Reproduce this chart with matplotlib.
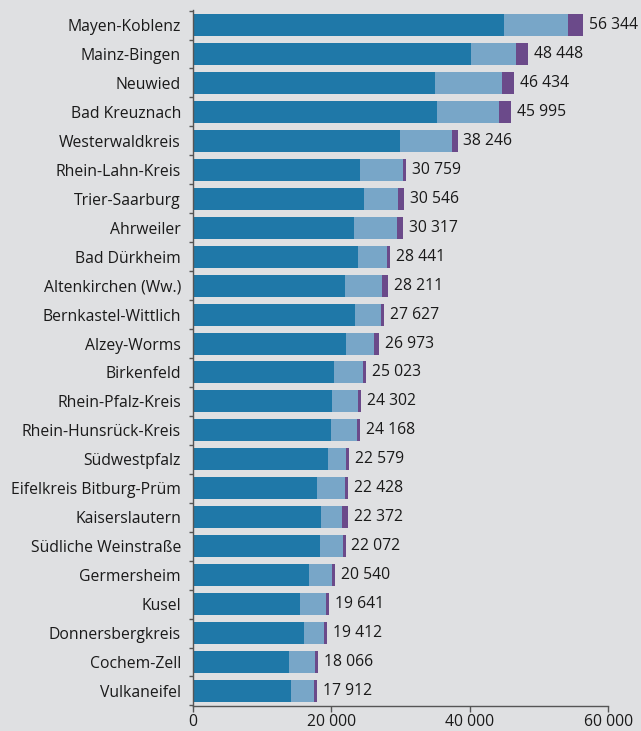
import numpy as np
import matplotlib
matplotlib.use("Agg")
import matplotlib.pyplot as plt
from matplotlib.ticker import FuncFormatter

# ---------------------------------------------------------------------
# Data
# ---------------------------------------------------------------------
districts = [
    "Mayen-Koblenz", "Mainz-Bingen", "Neuwied", "Bad Kreuznach",
    "Westerwaldkreis", "Rhein-Lahn-Kreis", "Trier-Saarburg", "Ahrweiler",
    "Bad Dürkheim", "Altenkirchen (Ww.)", "Bernkastel-Wittlich", "Alzey-Worms",
    "Birkenfeld", "Rhein-Pfalz-Kreis", "Rhein-Hunsrück-Kreis", "Südwestpfalz",
    "Eifelkreis Bitburg-Prüm", "Kaiserslautern", "Südliche Weinstraße",
    "Germersheim", "Kusel", "Donnersbergkreis", "Cochem-Zell", "Vulkaneifel",
]
totals = [
    56344, 48448, 46434, 45995, 38246, 30759, 30546, 30317,
    28441, 28211, 27627, 26973, 25023, 24302, 24168, 22579,
    22428, 22372, 22072, 20540, 19641, 19412, 18066, 17912,
]
dark = [
    44885, 40167, 34981, 35260, 29948, 24188, 24792, 23321,
    23852, 21952, 23462, 22129, 20456, 20140, 20029, 19584,
    17895, 18557, 18378, 16814, 15523, 16044, 13919, 14226,
]
light = [
    9311, 6568, 9735, 9018, 7439, 6142, 4891, 6140,
    4159, 5405, 3735, 3989, 4139, 3731, 3711, 2567,
    4108, 2967, 3268, 3296, 3692, 2947, 3718, 3261,
]
purple = [t - d - l for t, d, l in zip(totals, dark, light)]

# ---------------------------------------------------------------------
# Style
# ---------------------------------------------------------------------
BG = "#dfe0e2"
C_DARK = "#1f78a8"
C_LIGHT = "#78a6c8"
C_PURPLE = "#6b4a8a"
TEXT = "#1a1a1a"
AXIS = "#555555"
FS = 11.3

plt.rcParams["font.family"] = ["Open Sans", "DejaVu Sans"]

fig = plt.figure(figsize=(6.41, 7.31), dpi=100, facecolor=BG)
ax = fig.add_axes([0.3006, 0.0342, 0.6483, 0.9521], facecolor=BG)

y = np.arange(len(districts))
h = 0.76
d = np.array(dark)
l = np.array(light)
p = np.array(purple)
ax.barh(y, d, height=h, color=C_DARK, linewidth=0)
ax.barh(y, l, left=d, height=h, color=C_LIGHT, linewidth=0)
ax.barh(y, p, left=d + l, height=h, color=C_PURPLE, linewidth=0)

for yi, t in zip(y, totals):
    ax.text(t + 850, yi, f"{t:,}".replace(",", " "), va="center", ha="left",
            fontsize=FS, color=TEXT)

ax.set_xlim(0, 60000)
ax.set_ylim(len(districts) - 0.48, -0.52)

ax.set_xticks([0, 20000, 40000, 60000])
ax.xaxis.set_major_formatter(FuncFormatter(lambda v, _: f"{int(v):,}".replace(",", " ")))
ax.tick_params(axis="x", length=4, width=1, color=AXIS, labelsize=FS,
               labelcolor=TEXT, pad=2)

ax.set_yticks(y)
ax.set_yticklabels(districts)
ax.tick_params(axis="y", which="major", length=0, labelsize=FS,
               labelcolor=TEXT, pad=8.5)
ax.set_yticks(np.arange(len(districts) + 1) - 0.5, minor=True)
ax.tick_params(axis="y", which="minor", length=3, width=1, color=AXIS)

for side in ["top", "right"]:
    ax.spines[side].set_visible(False)
for side in ["left", "bottom"]:
    ax.spines[side].set_color(AXIS)
    ax.spines[side].set_linewidth(1)

fig.savefig("out.png", dpi=100, facecolor=BG)
